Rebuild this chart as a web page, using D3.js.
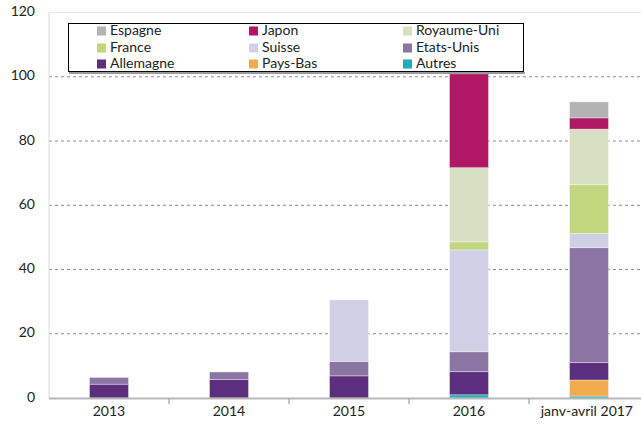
<!DOCTYPE html>
<html>
<head>
<meta charset="utf-8">
<script src="https://cdn.jsdelivr.net/npm/d3@7"></script>
<style>
  body { margin: 0; background: #fff; }
  svg { font-family: Lato, "Open Sans", sans-serif; }
</style>
</head>
<body>
<svg id="chart" width="641" height="428"></svg>
<script>
// data
var years = ["2013", "2014", "2015", "2016", "janv-avril 2017"]
var series = ["Autres", "Pays-Bas", "Allemagne", "Etats-Unis", "Suisse", "France", "Royaume-Uni", "Japon", "Espagne"]
var autres     = [0,   0,   0,    1.0,  0.6]
var paysBas    = [0,   0,   0,    0,    5.0]
var allemagne  = [4.3, 5.8, 6.9,  7.2,  5.4]
var etatsUnis  = [2.1, 2.3, 4.5,  6.2,  35.8]
var suisse     = [0,   0,   19.1, 31.7, 4.4]
var france     = [0,   0,   0,    2.5,  15.2]
var royaumeUni = [0,   0,   0,    23.1, 17.3]
var japon      = [0,   0,   0,    29.2, 3.5]
var espagne    = [0,   0,   0,    0,    5.0]
var yTicks = [0, 20, 40, 60, 80, 100, 120]
var legendOrder = ["Espagne", "Japon", "Royaume-Uni", "France", "Suisse", "Etats-Unis", "Allemagne", "Pays-Bas", "Autres"]

var colors = {
  "Autres": "#17b2b8", "Pays-Bas": "#f2ac50", "Allemagne": "#5e2e7e", "Etats-Unis": "#8b76a3",
  "Suisse": "#d1cfe6", "France": "#c1d67f", "Royaume-Uni": "#d9dfc2", "Japon": "#b01865", "Espagne": "#b3b3b3"
}

var values = [autres, paysBas, allemagne, etatsUnis, suisse, france, royaumeUni, japon, espagne]
var table = years.map(function(yr, i) {
  var row = {year: yr}
  series.forEach(function(s, j) { row[s] = values[j][i] })
  return row
})

var svg = d3.select("#chart")
var plotLeft = 49, plotTop = 12.5, plotBottom = 398
var x = d3.scaleBand().domain(years).range([plotLeft, plotLeft + 600])
var y = d3.scaleLinear().domain([0, 120]).range([plotBottom, plotTop])

// grid
svg.append("g").selectAll("line").data(yTicks.filter(function(d) { return d > 0 && d < 120 }))
  .enter().append("line")
  .attr("x1", plotLeft).attr("x2", 641).attr("y1", function(d) { return y(d) }).attr("y2", function(d) { return y(d) })
  .style("stroke", "#8c8c8c").style("stroke-dasharray", "3,3").style("stroke-width", 1)
svg.append("line").attr("x1", plotLeft).attr("x2", 641).attr("y1", y(120)).attr("y2", y(120))
  .style("stroke", "#e6e6e6")
svg.append("line").attr("x1", plotLeft).attr("x2", plotLeft).attr("y1", y(120)).attr("y2", plotBottom)
  .style("stroke", "#d9d9d9")

// bars
var stack = d3.stack().keys(series)(table)
var bw = 39
svg.append("g").selectAll("g").data(stack).enter().append("g")
  .style("fill", function(d) { return colors[d.key] })
  .selectAll("rect").data(function(d) { return d }).enter().append("rect")
  .filter(function(d) { return d[1] - d[0] > 0 })
  .attr("x", function(d) { return x(d.data.year) + x.bandwidth() / 2 - bw / 2 })
  .attr("width", bw)
  .attr("y", function(d) { return y(d[1]) })
  .attr("height", function(d) { return y(d[0]) - y(d[1]) })
  .style("stroke", "#fff").style("stroke-opacity", 0.45).style("stroke-width", 0.8)

// x axis
svg.append("line").attr("x1", plotLeft).attr("x2", 641).attr("y1", plotBottom + 0.5).attr("y2", plotBottom + 0.5)
  .style("stroke", "#b8b8b8").style("stroke-width", 2)
svg.append("g").selectAll("line").data(years.slice(1)).enter().append("line")
  .attr("x1", function(d) { return x(d) }).attr("x2", function(d) { return x(d) })
  .attr("y1", plotBottom + 1).attr("y2", plotBottom + 6).style("stroke", "#8c8c8c")
svg.append("g").selectAll("text").data(years).enter().append("text")
  .attr("x", function(d) { return x(d) + x.bandwidth() / 2 })
  .attr("y", 412).attr("text-anchor", "middle").attr("dominant-baseline", "middle")
  .style("font-size", "14px").style("fill", "#222").text(function(d) { return d })
  .each(function() {
    var w = this.getComputedTextLength()
    var cx = +this.getAttribute("x")
    if (cx + w / 2 > 633) this.setAttribute("x", 633 - w / 2)
  })

// y axis labels
svg.append("g").selectAll("text").data(yTicks).enter().append("text")
  .attr("x", 35).attr("y", function(d) { return y(d) })
  .attr("text-anchor", "end").attr("dominant-baseline", "middle")
  .style("font-size", "14px").style("fill", "#222").text(function(d) { return d })

// legend
var lg = svg.append("g")
lg.append("line").attr("x1", 69).attr("x2", 525).attr("y1", 73).attr("y2", 73).style("stroke", "#999").style("stroke-width", 2)
lg.append("rect").attr("x", 68.5).attr("y", 23.5).attr("width", 455).attr("height", 48)
  .style("fill", "#fff").style("stroke", "#000")
var colX = [97, 249, 403]
var rowY = [31, 48, 64]
legendOrder.forEach(function(s, i) {
  var cx = colX[i % 3], cy = rowY[Math.floor(i / 3)]
  lg.append("rect").attr("x", cx).attr("y", cy - 4.5).attr("width", 9).attr("height", 9).style("fill", colors[s])
  lg.append("text").attr("x", cx + 13).attr("y", cy).attr("dominant-baseline", "middle")
    .style("font-size", "14px").style("fill", "#222").text(s)
})
</script>
</body>
</html>
